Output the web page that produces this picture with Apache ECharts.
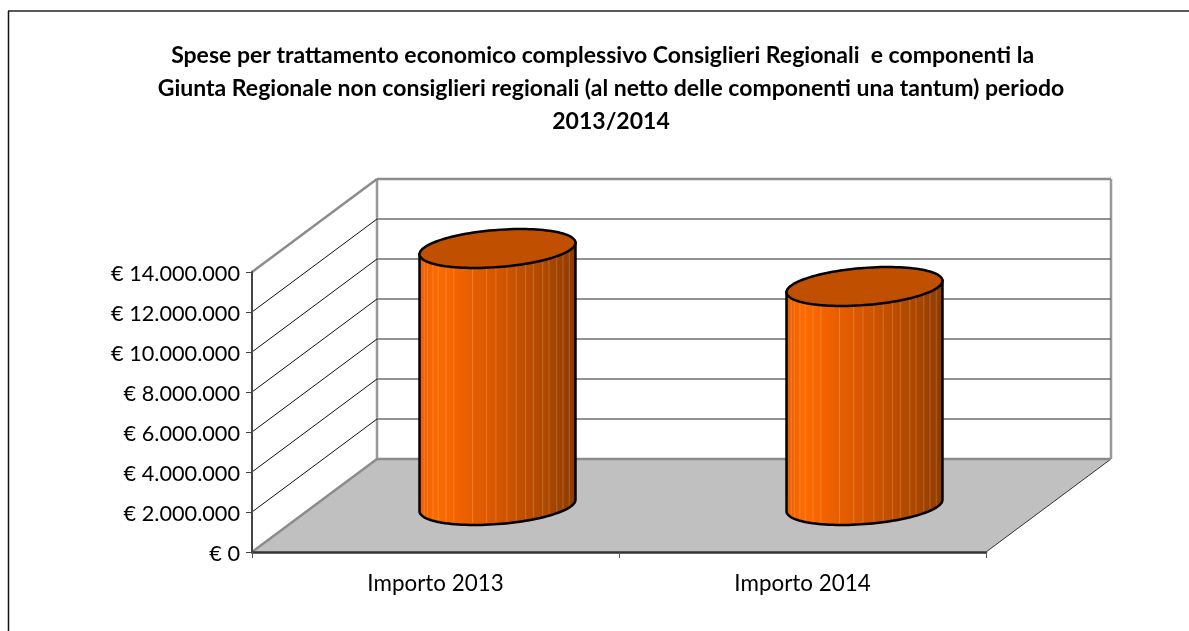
<!DOCTYPE html>
<html>
<head>
<meta charset="utf-8">
<style>
  html, body { margin: 0; padding: 0; background: #fff; }
  #main { width: 1189px; height: 631px; }
</style>
<script src="https://cdn.jsdelivr.net/npm/echarts@6/dist/echarts.min.js"></script>
</head>
<body>
<div id="main"></div>
<script>
  let titleLines = [
    'Spese per trattamento economico complessivo Consiglieri Regionali  e componenti la   ',
    'Giunta Regionale non consiglieri regionali (al netto delle componenti una tantum) periodo',
    '2013/2014'
  ];
  let categories = ['Importo 2013', 'Importo 2014'];
  let values = [12850000, 10950000];
  let yTicks = [0, 2000000, 4000000, 6000000, 8000000, 10000000, 12000000, 14000000];

  // 3D depth of the box, in pixels
  let depthX = 125, depthY = -93;
  // light streaks on the cylinder, as a share of its width
  let streaks = [0.03, 0.05, 0.086, 0.12, 0.17, 0.22, 0.34, 0.43, 0.49, 0.56, 0.62, 0.68, 0.73, 0.79, 0.83, 0.88, 0.92, 0.96];

  function money(v) {
    return '{a|€ ' + String(v).replace(/\B(?=(\d{3})+$)/g, '.') + '}';
  }

  function renderWall(params, api) {
    let sys = params.coordSys;
    let tick = api.value(1);
    let y = api.coord([0, tick])[1];
    let left = sys.x, right = sys.x + sys.width;
    let edge = tick === yTicks[0] || tick === yTicks[yTicks.length - 1];
    let children = [];
    if (tick === yTicks[0]) {
      children.push({
        type: 'polygon',
        shape: { points: [[left, y], [right, y], [right + depthX, y + depthY], [left + depthX, y + depthY]] },
        style: { fill: '#C0C0C0' }
      });
      children.push({
        type: 'line',
        shape: { x1: right, y1: y, x2: right + depthX, y2: y + depthY },
        style: { stroke: '#333', lineWidth: 1 }
      });
      let topY = api.coord([0, yTicks[yTicks.length - 1]])[1] + depthY;
      [left + depthX, right + depthX].forEach(function (x) {
        children.push({
          type: 'line',
          shape: { x1: x, y1: topY, x2: x, y2: y + depthY },
          style: { stroke: '#999', lineWidth: 2.5 }
        });
      });
    }
    // side wall
    children.push({
      type: 'line',
      shape: { x1: left, y1: y, x2: left + depthX, y2: y + depthY },
      style: { stroke: edge ? '#8c8c8c' : '#111', lineWidth: edge ? 2.5 : 1 }
    });
    // back wall
    children.push({
      type: 'line',
      shape: { x1: left + depthX, y1: y + depthY, x2: right + depthX, y2: y + depthY },
      style: { stroke: edge ? '#8c8c8c' : '#6e6e6e', lineWidth: edge ? 2.5 : 1.5 }
    });
    return { type: 'group', children: children };
  }

  function renderCylinder(params, api) {
    let i = api.value(0);
    let band = api.size([1, 0])[0];
    let base = api.coord([i, 0]);
    let top = api.coord([i, api.value(1)]);
    let cx = base[0] + depthX / 2 - 0.5;
    let baseY = base[1] + depthY / 2;
    let topY = top[1] + depthY / 2;
    let rx = band * 0.2125, ry = 18.6, skew = -5.75;

    function point(t, y0) {
      return [cx + rx * Math.cos(t), y0 + skew * Math.cos(t) + ry * Math.sin(t)];
    }

    let body = [point(0, topY)];
    for (let k = 0; k <= 60; k++) {
      body.push(point(Math.PI * k / 60, baseY));
    }
    body.push(point(Math.PI, topY));
    let lid = [];
    for (let k = 0; k < 120; k++) {
      lid.push(point(Math.PI * k / 60, topY));
    }

    let children = [{
      type: 'polygon',
      shape: { points: body },
      style: {
        fill: new echarts.graphic.LinearGradient(0, 0, 1, 0, [
          { offset: 0, color: '#E85E00' },
          { offset: 0.12, color: '#FF6A00' },
          { offset: 0.45, color: '#DC5800' },
          { offset: 0.8, color: '#AE4800' },
          { offset: 1, color: '#8A3A00' }
        ]),
        stroke: '#000',
        lineWidth: 2.5
      }
    }];
    streaks.forEach(function (f) {
      let x = cx - rx + 2 * rx * f;
      let t = Math.acos((x - cx) / rx);
      let end = point(t, baseY);
      children.push({
        type: 'line',
        shape: { x1: x, y1: topY, x2: x, y2: end[1] - 2 },
        style: { stroke: 'rgba(255,215,170,0.25)', lineWidth: 1 }
      });
    });
    children.push({
      type: 'polygon',
      shape: { points: lid },
      style: { fill: '#C05000', stroke: '#000', lineWidth: 2.5 }
    });
    return { type: 'group', children: children };
  }

  let myChart = echarts.init(document.getElementById('main'), null, { renderer: 'canvas' });
  myChart.setOption({
    animation: false,
    backgroundColor: '#fff',
    title: {
      text: titleLines.join('\n'),
      left: 606,
      top: 34.5,
      textAlign: 'center',
      textStyle: {
        fontFamily: 'Lato',
        fontSize: 23,
        fontWeight: 'bold',
        color: '#000',
        lineHeight: 33
      }
    },
    graphic: [
      { type: 'line', shape: { x1: 8, y1: 11, x2: 1189, y2: 11 }, style: { stroke: '#222', lineWidth: 1.5 } },
      { type: 'line', shape: { x1: 8.5, y1: 11, x2: 8.5, y2: 631 }, style: { stroke: '#111', lineWidth: 1.5 } }
    ],
    grid: { left: 252, top: 272, width: 734, height: 280 },
    xAxis: {
      type: 'category',
      data: categories,
      z: 5,
      axisLine: { lineStyle: { color: '#333', width: 2.5 } },
      axisTick: { show: true, length: 6, lineStyle: { color: '#555' } },
      axisLabel: { fontFamily: 'Lato', fontSize: 22.4, color: '#000', margin: 21 }
    },
    yAxis: {
      type: 'value',
      min: 0,
      max: 14000000,
      interval: 2000000,
      z: 5,
      splitLine: { show: false },
      axisLine: { show: true, lineStyle: { color: '#444', width: 2 } },
      axisTick: { show: true, length: 6, lineStyle: { color: '#444' } },
      axisLabel: {
        margin: 12,
        formatter: money,
        rich: {
          a: { fontFamily: 'Lato', fontSize: 21.7, color: '#000', padding: [5, 0, 0, 0] }
        }
      }
    },
    series: [{
      type: 'custom',
      name: 'pareti',
      z: 1,
      silent: true,
      renderItem: renderWall,
      data: yTicks.map(function (t) { return [0, t]; })
    }, {
      type: 'custom',
      name: 'Spese',
      z: 2,
      silent: true,
      renderItem: renderCylinder,
      data: categories.map(function (c, i) { return [i, values[i]]; })
    }]
  });
</script>
</body>
</html>
